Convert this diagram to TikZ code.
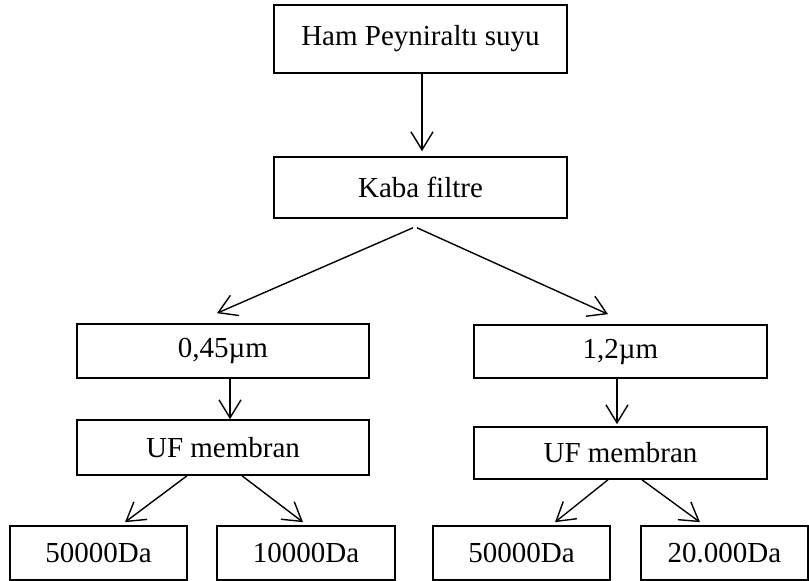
\documentclass[tikz,border=0pt]{standalone}
\usepackage{fontspec}
\setmainfont{Liberation Serif}
\usetikzlibrary{arrows.meta, positioning, calc}

\begin{document}
\begin{tikzpicture}[x=0.5pt,y=-0.5pt,
    kutu/.style={draw, line width=0.8pt, inner sep=0pt, font=\fontsize{14.5pt}{17pt}\selectfont},
    ok/.style={line width=0.7pt, -{Straight Barb[length=9pt,width=11pt]}}]
      \useasboundingbox (0,0) rectangle (809,581);

      \node[kutu, minimum width=146.5pt, minimum height=34pt] (ham) at (420.5,39) {Ham Peyniraltı suyu};
      \node[kutu, minimum width=146.5pt, minimum height=30.5pt] (kaba) at (420.5,187.5) {Kaba filtre};

      \node[kutu, minimum width=146pt, minimum height=27pt] (sol) at (223,351) {0,45µm};
      \node[kutu, minimum width=146pt, minimum height=27.5pt] (solUF) at (223,447.5) {UF membran};
      \node[kutu, minimum width=146.5pt, minimum height=26.5pt] (sag) at (620.5,351.5) {1,2µm};
      \node[kutu, minimum width=146.5pt, minimum height=26pt] (sagUF) at (620.5,453) {UF membran};

      \node[kutu, minimum width=88.5pt, minimum height=27pt] (sol50) at (98.5,553) {50000Da};
      \node[kutu, minimum width=89pt, minimum height=27pt] (sol10) at (306,553) {10000Da};
      \node[kutu, minimum width=88.5pt, minimum height=27pt] (sag50) at (521.5,553) {50000Da};
      \node[kutu, minimum width=83.5pt, minimum height=27pt] (sag20) at (724.5,553) {20.000Da};

      \draw[ok] ([shift={(1.5,0)}]ham.south) -- ([shift={(1.5,-5)}]kaba.north);
      \draw[ok] ([shift={(-7.5,9)}]kaba.south) -- ([shift={(-6,-10)}]sol.north);
      \draw[ok] ([shift={(-3.5,9)}]kaba.south) -- ([shift={(-12.5,-10)}]sag.north);

      \draw[ok] ([shift={(7,0)}]sol.south) -- ([shift={(7,0)}]solUF.north);
      \draw[ok] ([shift={(-3.5,0)}]sag.south) -- ([shift={(-3.5,-2)}]sagUF.north);

      \draw[ok] ([shift={(-36,0)}]solUF.south) -- ([shift={(26.5,-3)}]sol50.north);
      \draw[ok] ([shift={(19,0)}]solUF.south) -- ([shift={(-3,-3)}]sol10.north);
      \draw[ok] ([shift={(-12.5,0)}]sagUF.south) -- ([shift={(33.5,-3)}]sag50.north);
      \draw[ok] ([shift={(21.5,0)}]sagUF.south) -- ([shift={(-24.5,-3)}]sag20.north);

    \end{tikzpicture}
\end{document}
